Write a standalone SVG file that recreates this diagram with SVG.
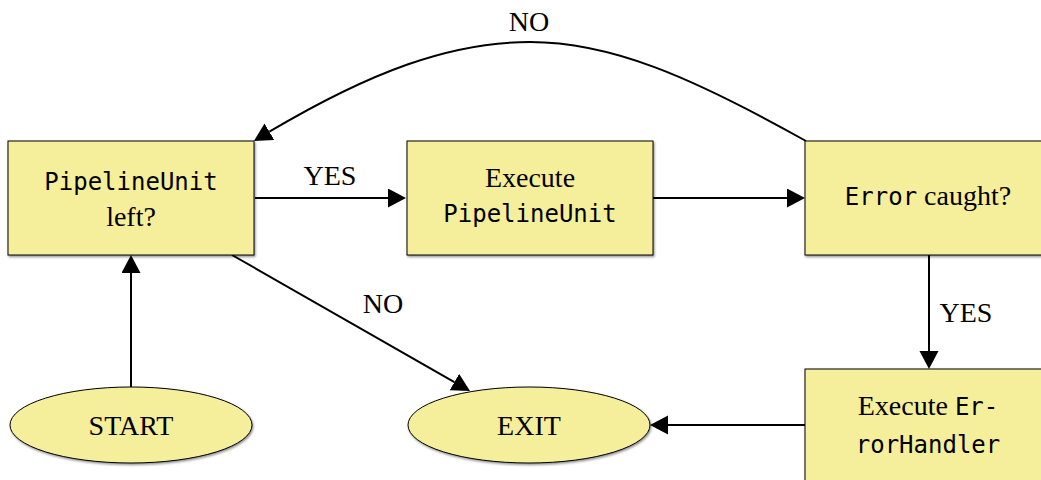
<svg xmlns="http://www.w3.org/2000/svg" width="1041" height="480" viewBox="0 0 1041 480">
  <style>
    .node { fill: #F5EF9B; stroke: #000; stroke-width: 1; filter: url(#shade); }
    .serif { font-family: "Liberation Serif", "Times New Roman", serif; font-size: 28px; fill: #000; }
    .mono { font-family: "DejaVu Sans Mono", "Liberation Mono", monospace; font-size: 24px; }
    .edge { fill: none; stroke: #000; stroke-width: 2; marker-end: url(#head); }
    .label { text-anchor: middle; }
  </style>
  <defs>
    <filter id="shade" x="-5%" y="-5%" width="110%" height="115%">
      <feDropShadow dx="1" dy="1.5" stdDeviation="0.8" flood-color="#000" flood-opacity="0.45"/>
    </filter>
    <marker id="head" markerUnits="userSpaceOnUse" markerWidth="20" markerHeight="20" refX="0" refY="9.5" orient="auto">
      <path d="M0,0 L18,9.5 L0,19 z" fill="#000"/>
    </marker>
  </defs>

  <rect width="1041" height="480" fill="#fff"/>

  <!-- connectors -->
  <g id="edges">
    <path class="edge" d="M255,198 H388"/>
    <path class="edge" d="M653,198 H787"/>
    <path class="edge" d="M929,255 V351"/>
    <path class="edge" d="M805,425 H668"/>
    <path class="edge" d="M131,387 V273"/>
    <path class="edge" d="M232,255 L454.4,382.1"/>
    <path class="edge" d="M806,141 C690,76 610,42 530,42 C450,42 370,72 269.4,131.7"/>
    <text class="serif label" x="330" y="185">YES</text>
    <text class="serif label" x="383" y="313">NO</text>
    <text class="serif label" x="966" y="322">YES</text>
    <text class="serif label" x="529" y="31">NO</text>
  </g>

  <g id="unit-left">
    <rect class="node" x="8" y="141" width="246" height="114"/>
    <text class="serif label" x="131" y="190"><tspan class="mono">PipelineUnit</tspan></text>
    <text class="serif label" x="131" y="226">left?</text>
  </g>

  <g id="execute-unit">
    <rect class="node" x="407" y="141" width="246" height="114"/>
    <text class="serif label" x="530" y="187">Execute</text>
    <text class="serif label" x="530" y="222"><tspan class="mono">PipelineUnit</tspan></text>
  </g>

  <g id="error-caught">
    <rect class="node" x="805" y="141" width="246" height="114"/>
    <text class="serif label" x="928" y="205"><tspan class="mono">Error</tspan> caught?</text>
  </g>

  <g id="error-handler">
    <rect class="node" x="805" y="369" width="246" height="114"/>
    <text class="serif label" x="928" y="415">Execute <tspan class="mono">Er-</tspan></text>
    <text class="serif label" x="928" y="453"><tspan class="mono">rorHandler</tspan></text>
  </g>

  <g id="start">
    <ellipse class="node" cx="131" cy="425" rx="121" ry="38"/>
    <text class="serif label" x="131" y="435">START</text>
  </g>

  <g id="exit">
    <ellipse class="node" cx="529" cy="425" rx="121" ry="38"/>
    <text class="serif label" x="529" y="435">EXIT</text>
  </g>
</svg>
